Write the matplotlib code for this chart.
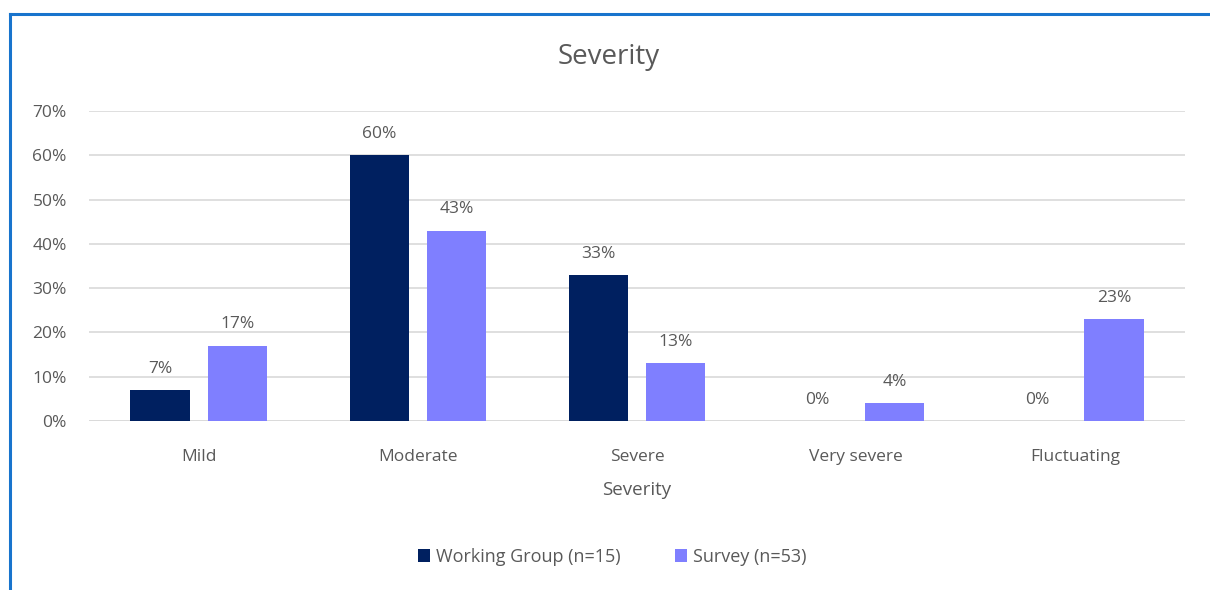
import matplotlib
matplotlib.use("Agg")
import matplotlib.pyplot as plt
from matplotlib.lines import Line2D
from matplotlib.ticker import PercentFormatter
import numpy as np

categories = ["Mild", "Moderate", "Severe", "Very severe", "Fluctuating"]
working_group = [7, 60, 33, 0, 0]
survey = [17, 43, 13, 4, 23]
series_names = ["Working Group (n=15)", "Survey (n=53)"]

DARK = "#002060"
LIGHT = "#7F7FFF"
TXT = "#595959"

plt.rcParams["font.family"] = ["Open Sans", "DejaVu Sans"]

fig = plt.figure(figsize=(12.1, 5.9), dpi=100)
ax = fig.add_axes([89 / 1210, 1 - 421 / 590, (1185 - 89) / 1210, (421 - 111) / 590])

x = np.arange(len(categories))
w = 0.27
off = 0.176
b1 = ax.bar(x - off, working_group, w, color=DARK, label=series_names[0], zorder=3)
b2 = ax.bar(x + off, survey, w, color=LIGHT, label=series_names[1], zorder=3)

for bars, vals in ((b1, working_group), (b2, survey)):
    for r, v in zip(bars, vals):
        ax.text(r.get_x() + r.get_width() / 2, v + 3.0, f"{v}%", ha="center", va="bottom",
                fontsize=12.5, color=TXT)

ax.set_xlim(-0.5, len(categories) - 0.5)
ax.set_ylim(0, 70)
ax.set_yticks(range(0, 71, 10))
ax.yaxis.set_major_formatter(PercentFormatter(decimals=0))
ax.set_xticks(x)
ax.set_xticklabels(categories)
ax.tick_params(axis="both", length=0, labelsize=12.5, labelcolor=TXT)
ax.tick_params(axis="y", pad=16)
ax.tick_params(axis="x", pad=20)
ax.grid(axis="y", color="#D9D9D9", linewidth=1.2, zorder=0)
for s in ax.spines.values():
    s.set_visible(False)
ax.axhline(0, color="#D9D9D9", linewidth=1.2, zorder=1)

ax.set_xlabel("Severity", fontsize=13.5, color=TXT, labelpad=12)
fig.text(609 / 1210, 1 - 57 / 590, "Severity", ha="center", va="center", fontsize=20, color=TXT)

fig.legend(handles=[b1, b2], loc="center", bbox_to_anchor=(612 / 1210, 1 - 557 / 590), ncol=2,
           frameon=False, fontsize=13, labelcolor=TXT, handlelength=0.7, handleheight=0.7,
           handletextpad=0.3, columnspacing=3.0)

# blue chart frame
fig.add_artist(Line2D([10 / 1210, 10 / 1210], [0, 1 - 14 / 590], color="#1874CD", linewidth=2.2,
                      transform=fig.transFigure))
fig.add_artist(Line2D([10 / 1210, 1], [1 - 14 / 590, 1 - 14 / 590], color="#1874CD", linewidth=2.2,
                      transform=fig.transFigure))

fig.savefig("out.png", dpi=100)
